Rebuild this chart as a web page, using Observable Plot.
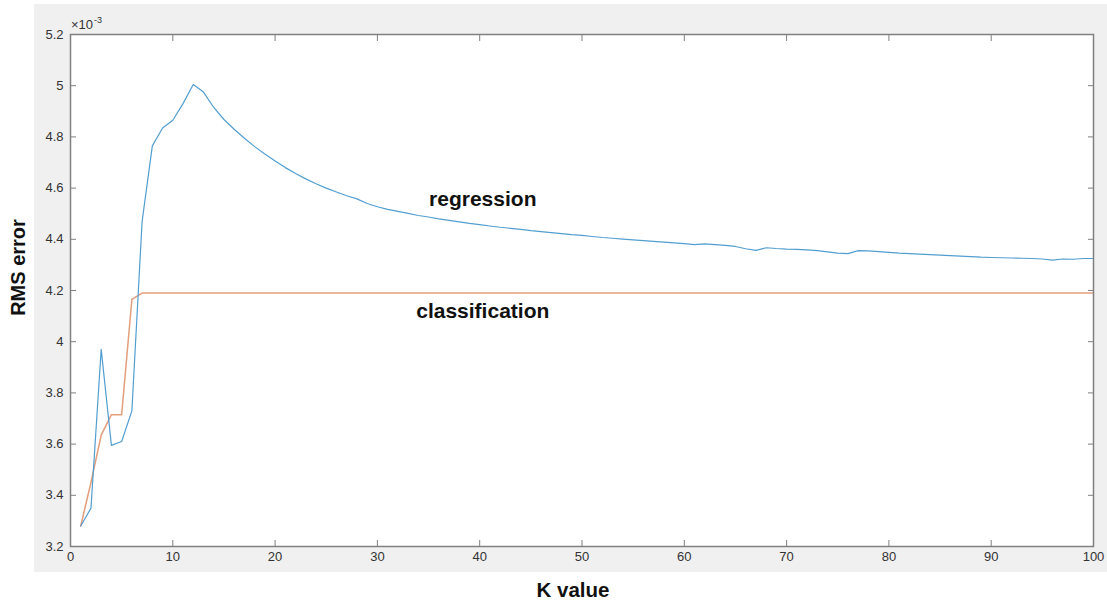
<!DOCTYPE html>
<html><head><meta charset="utf-8">
<script src="https://cdn.jsdelivr.net/npm/d3@7"></script>
<script src="https://cdn.jsdelivr.net/npm/@observablehq/plot@0.6"></script>
<style>
body{margin:0;background:#fff;font-family:"Liberation Sans",Arial,sans-serif}
#wrap{position:relative;width:1107px;height:602px;overflow:hidden}
#bg{position:absolute;left:34px;top:4px;width:1073px;height:568px;background:#f0f0f0}
#chart{position:absolute;left:0;top:0}
#exp{position:absolute;left:71px;top:18px;font-size:13px;line-height:13px;color:#333;white-space:nowrap}
#exp span{font-size:9px;position:relative;top:-6px;margin-left:1px}
</style></head><body>
<div id="wrap"><div id="bg"></div><div id="chart"></div><div id="exp">×10<span>-3</span></div></div>
<script>
const K = d3.range(1, 101);
const regression = [
  3.28, 3.35, 3.97, 3.595, 3.61, 3.73, 4.47, 4.765, 4.835, 4.865,
  4.93, 5.005, 4.975, 4.915, 4.868, 4.83, 4.795, 4.762, 4.733, 4.706,
  4.680, 4.657, 4.636, 4.617, 4.600, 4.585, 4.570, 4.558, 4.540, 4.527,
  4.517, 4.509, 4.501, 4.493, 4.487, 4.480, 4.474, 4.468, 4.462, 4.457,
  4.452, 4.447, 4.443, 4.439, 4.434, 4.430, 4.426, 4.422, 4.418, 4.415,
  4.411, 4.407, 4.404, 4.401, 4.398, 4.395, 4.392, 4.389, 4.386, 4.383,
  4.379, 4.382, 4.379, 4.376, 4.372, 4.363, 4.357, 4.367, 4.364, 4.362,
  4.361, 4.359, 4.356, 4.351, 4.346, 4.344, 4.356, 4.355, 4.352, 4.349,
  4.346, 4.344, 4.342, 4.340, 4.338, 4.336, 4.334, 4.332, 4.330, 4.329,
  4.328, 4.327, 4.326, 4.325, 4.323, 4.319, 4.323, 4.322, 4.325, 4.325
];
const classification = [
  3.28, 3.45, 3.635, 3.715, 3.715, 4.165, 4.19, 4.19, 4.19, 4.19,
  4.19, 4.19, 4.19, 4.19, 4.19, 4.19, 4.19, 4.19, 4.19, 4.19,
  4.19, 4.19, 4.19, 4.19, 4.19, 4.19, 4.19, 4.19, 4.19, 4.19,
  4.19, 4.19, 4.19, 4.19, 4.19, 4.19, 4.19, 4.19, 4.19, 4.19,
  4.19, 4.19, 4.19, 4.19, 4.19, 4.19, 4.19, 4.19, 4.19, 4.19,
  4.19, 4.19, 4.19, 4.19, 4.19, 4.19, 4.19, 4.19, 4.19, 4.19,
  4.19, 4.19, 4.19, 4.19, 4.19, 4.19, 4.19, 4.19, 4.19, 4.19,
  4.19, 4.19, 4.19, 4.19, 4.19, 4.19, 4.19, 4.19, 4.19, 4.19,
  4.19, 4.19, 4.19, 4.19, 4.19, 4.19, 4.19, 4.19, 4.19, 4.19,
  4.19, 4.19, 4.19, 4.19, 4.19, 4.19, 4.19, 4.19, 4.19, 4.19
];
const xTicks = [0, 10, 20, 30, 40, 50, 60, 70, 80, 90, 100];
const yTicks = [3.2, 3.4, 3.6, 3.8, 4.0, 4.2, 4.4, 4.6, 4.8, 5.0, 5.2];
const seriesLabels = [
  {name: "regression", k: 40.3, v: 4.555},
  {name: "classification", k: 40.3, v: 4.118}
];

const font = "Liberation Sans, Arial, Helvetica, sans-serif";
const axisColor = "#808080";
const fmtY = d => String(+d.toFixed(1));

const chart = Plot.plot({
  width: 1107, height: 602,
  marginLeft: 70, marginRight: 14, marginTop: 34, marginBottom: 56,
  style: {background: "transparent", fontFamily: font},
  x: {domain: [0, 100]},
  y: {domain: [3.2, 5.2]},
  marks: [
    Plot.frame({fill: "white", stroke: "none"}),
    Plot.line(K, {x: d => d, y: (d, i) => classification[i], stroke: "#e39e7c", strokeWidth: 1.5}),
    Plot.line(K, {x: d => d, y: (d, i) => regression[i], stroke: "#539ed0", strokeWidth: 1.2}),
    Plot.axisX({ticks: xTicks, tickSize: -6, tickFormat: () => "", label: null, stroke: axisColor}),
    Plot.axisX({anchor: "top", ticks: xTicks, tickSize: -6, tickFormat: () => "", label: null, stroke: axisColor}),
    Plot.axisY({ticks: yTicks, tickSize: -6, tickFormat: () => "", label: null, stroke: axisColor}),
    Plot.axisY({anchor: "right", ticks: yTicks, tickSize: -6, tickFormat: () => "", label: null, stroke: axisColor}),
    Plot.axisX({ticks: xTicks, tickSize: 0, tickPadding: 5, tickFormat: d => String(d), label: null, fontSize: 13, fill: "#333"}),
    Plot.axisY({ticks: yTicks, tickSize: 0, tickPadding: 7, tickFormat: fmtY, label: null, fontSize: 13, fill: "#333"}),
    Plot.frame({stroke: axisColor, strokeWidth: 1.5}),
    Plot.text(seriesLabels, {x: "k", y: "v", text: "name", fontWeight: "bold", fontSize: 21, fill: "#111"}),
    Plot.text(["K value"], {frameAnchor: "bottom", dy: 44, dx: -9, textAnchor: "middle", lineAnchor: "middle", text: d => d, fontWeight: "bold", fontSize: 20.5, fill: "#111"}),
    Plot.text(["RMS error"], {frameAnchor: "left", dx: -52, dy: -23, rotate: -90, textAnchor: "middle", lineAnchor: "middle", text: d => d, fontWeight: "bold", fontSize: 20, fill: "#111"})
  ]
});
document.getElementById("chart").appendChild(chart);
</script>
</body></html>
